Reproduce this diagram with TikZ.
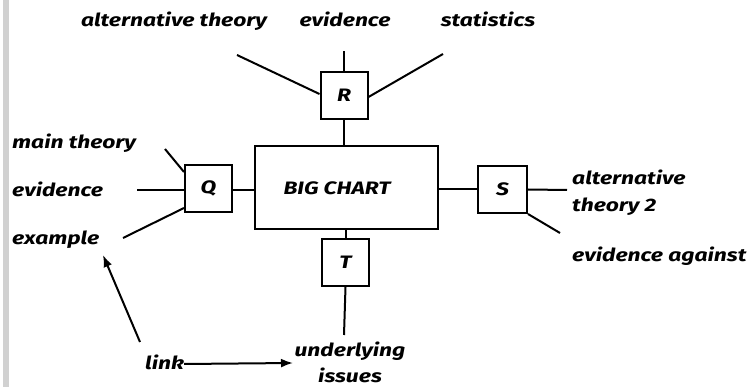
\documentclass[tikz,border=0pt]{standalone}
\usepackage{fontspec}
\setmainfont{Fira Sans}[FakeStretch=1.27]
\usetikzlibrary{arrows.meta}
\begin{document}
\begin{tikzpicture}[x=1pt,y=-1pt,
  lbl/.style={inner sep=0pt,font=\bfseries\itshape\fontsize{18}{21}\selectfont},
  boxq/.style={draw,line width=2pt,minimum width=47pt,minimum height=47pt,inner sep=0pt,font=\bfseries\itshape\fontsize{18}{21}\selectfont},
  conn/.style={line width=2pt},
  arr/.style={line width=2pt,-{Latex[length=12pt,width=9pt]}}]
\useasboundingbox (0,0) rectangle (748,387);
\fill[black!18] (3,0) rectangle (9,387);
% boxes
\node[boxq,minimum width=183pt,minimum height=83pt] (chart) at (346.5,187.5) {};
\node[lbl,anchor=base] (charttxt) at (337,195) {BIG CHART};
\node[boxq] (R) at (344,95.5) {R};
\node[boxq] (Q) at (208.5,188.5) {Q};
\node[boxq,minimum width=49pt] (S) at (502.5,189.5) {S};
\node[boxq] (T) at (345.5,262.5) {T};
% labels
\node[lbl,anchor=base] (alt) at (174,27) {alternative theory};
\node[lbl,anchor=base] (evtop) at (345,27) {evidence};
\node[lbl,anchor=base] (stat) at (488,27) {statistics};
\node[lbl,anchor=base west] (main) at (12,149) {main theory};
\node[lbl,anchor=base west] (evl) at (12,197) {evidence};
\node[lbl,anchor=base west] (ex) at (12,245) {example};
\node[lbl,anchor=base west] (alt2a) at (572,185) {alternative};
\node[lbl,anchor=base west] (alt2b) at (572,212) {theory 2};
\node[lbl,anchor=base west] (evag) at (572,262) {evidence against};
\node[lbl,anchor=base west] (link) at (145,370) {link};
\node[lbl,anchor=base] (und) at (350,357) {underlying};
\node[lbl,anchor=base] (iss) at (350,383) {issues};
% free ends
\coordinate (rtop) at (344,51);
\coordinate (ralt) at (237,55);
\coordinate (rstat) at (443,54);
\coordinate (qmain) at (165,149);
\coordinate (qev) at (137,190);
\coordinate (qex) at (123,238);
\coordinate (salt) at (567,190);
\coordinate (sev) at (560,233);
\coordinate (tund) at (344,335);
\coordinate (linkup) at (140,342);
\coordinate (extip) at (103,255);
\coordinate (undtip) at (293,363);
% connectors
\draw[conn] (R.south) -- (chart.north -| R.south);
\draw[conn] (R.north) -- (rtop);
\draw[conn] ([yshift=1.5pt]R.west) -- (ralt);
\draw[conn] ([yshift=-1.5pt]R.east) -- (rstat);
\draw[conn] ([yshift=-1.5pt]Q.east) -- ([yshift=-1.5pt]Q.east -| chart.west);
\draw[conn] ([yshift=-1.5pt]Q.west) -- (qev);
\draw[conn] ([yshift=-8pt]Q.north west) -- (qmain);
\draw[conn] ([yshift=5pt]Q.south west) -- (qex);
\draw[conn] (S.west -| chart.east) -- (S.west);
\draw[conn] (S.east) -- (salt);
\draw[conn] (S.south east) -- (sev);
\draw[conn] (chart.south -| T.north) -- (T.north);
\draw[conn] (T.south) -- (tund);
\draw[arr] (linkup) -- (extip);
\draw[arr] ([yshift=6pt]link.base east) -- (undtip);
\end{tikzpicture}
\end{document}
